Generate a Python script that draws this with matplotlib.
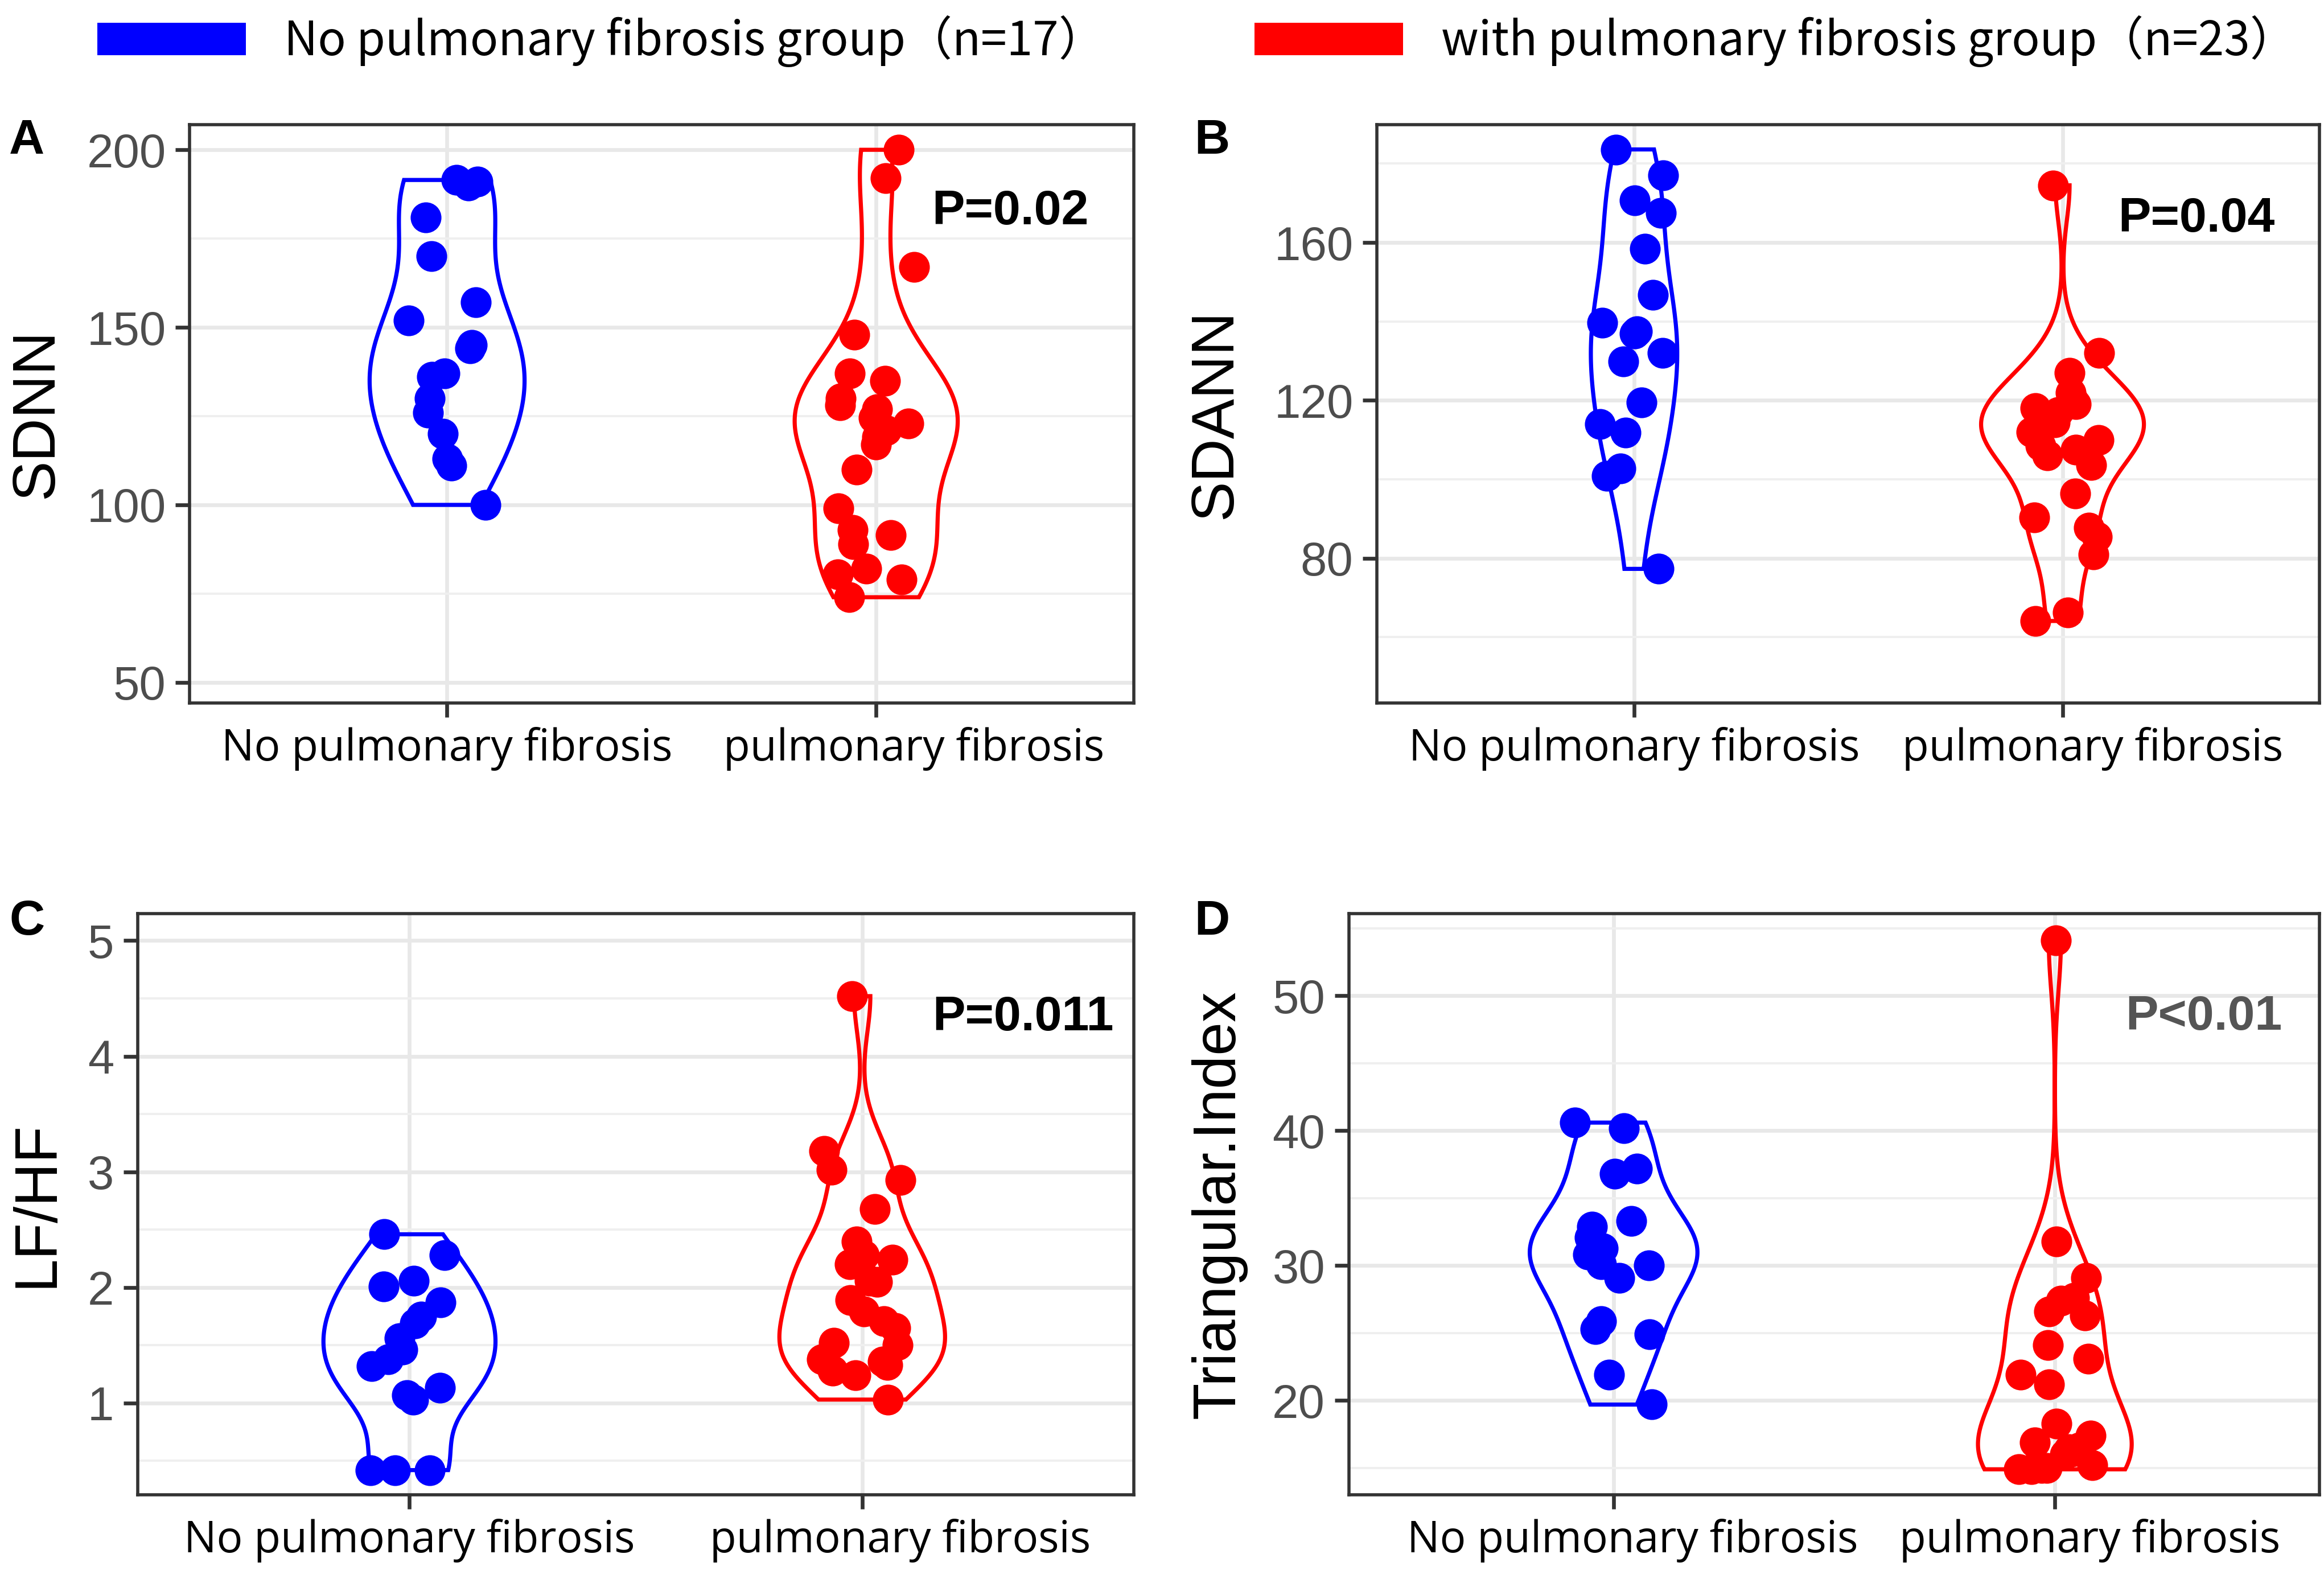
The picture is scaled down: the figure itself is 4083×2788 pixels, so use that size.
import numpy as np
import matplotlib.pyplot as plt
from matplotlib.patches import Patch
from matplotlib.transforms import ScaledTranslation

plt.rcParams['font.family'] = ['Liberation Sans', 'DejaVu Sans']

categories = ['No pulmonary fibrosis', 'pulmonary fibrosis']
legend_labels = ['No pulmonary fibrosis group（n=17）', 'with pulmonary fibrosis group（n=23）']

sdnn_no = [191.5, 191, 190, 181, 170, 157, 152, 145, 144, 137, 136, 130, 126, 120, 113, 111, 100]
sdnn_pf = [200, 192, 167, 148, 137, 135, 130, 128, 127, 124.5, 123, 121, 119, 117, 110,
           99, 93, 91.5, 89, 82, 80.5, 79, 74]

sdann_no = [183.6, 177, 170.7, 167.5, 158.4, 146.8, 139.7, 137.5, 137, 132.1, 129.9,
            119.5, 114, 111.8, 102.8, 100.8, 77.3]
sdann_pf = [174.5, 132, 127, 122, 120, 119, 118, 117, 115, 114.5, 112, 110, 108.5, 107.5,
            106, 103.6, 96.4, 90.4, 87.7, 85.5, 81, 66.3, 64.1]

lfhf_no = [2.46, 2.28, 2.06, 2.01, 1.87, 1.75, 1.69, 1.56, 1.46, 1.38, 1.32, 1.13, 1.07,
           1.03, 0.42, 0.42, 0.42]
lfhf_pf = [4.52, 3.18, 3.02, 2.93, 2.68, 2.40, 2.28, 2.24, 2.20, 2.06, 2.05, 1.89, 1.79,
           1.71, 1.65, 1.52, 1.50, 1.38, 1.36, 1.33, 1.28, 1.24, 1.03]

tri_no = [40.6, 40.2, 37.2, 36.8, 33.3, 32.9, 32.1, 31.3, 30.8, 30.1, 30.0, 29.1, 25.9,
          25.3, 24.9, 21.9, 19.7]
tri_pf = [54.1, 31.8, 29.1, 27.6, 27.4, 26.6, 26.3, 24.1, 23.1, 21.9, 21.2, 18.3, 17.4,
          16.9, 16.5, 16.4, 16.2, 16.0, 15.2, 15.0, 15.0, 14.9, 14.9]

p_texts = ['P=0.02', 'P=0.04', 'P=0.011', 'P<0.01']
y_labels = ['SDNN', 'SDANN', 'LF/HF', 'Triangular.Index']
panel_letters = ['A', 'B', 'C', 'D']

BLUE = '#0000FF'
RED = '#FF0000'


def kde(vals, n=512):
    # gaussian kde with R's nrd0 bandwidth, trimmed to data range (ggplot default)
    v = np.asarray(vals, float)
    sd = v.std(ddof=1)
    q75, q25 = np.percentile(v, [75, 25])
    bw = 0.9 * min(sd, (q75 - q25) / 1.34) * len(v) ** -0.2
    ys = np.linspace(v.min(), v.max(), n)
    d = np.exp(-0.5 * ((ys[:, None] - v[None, :]) / bw) ** 2).sum(1)
    d /= len(v) * bw * np.sqrt(2 * np.pi)
    return ys, d


fig = plt.figure(figsize=(20.415, 13.94), dpi=200)

# axes boxes [left, bottom, width, height] in figure fraction
boxes = [
    [0.0816, 0.557, 0.4062, 0.3645],
    [0.5925, 0.557, 0.4056, 0.3645],
    [0.0593, 0.058, 0.4286, 0.3664],
    [0.5804, 0.058, 0.4177, 0.3664],
]
panels = [
    (sdnn_no, sdnn_pf, (44.2, 207.1), [50, 100, 150, 200], [75, 125, 175]),
    (sdann_no, sdann_pf, (43.3, 189.9), [80, 120, 160], [60, 100, 140, 180]),
    (lfhf_no, lfhf_pf, (0.205, 5.235), [1, 2, 3, 4, 5], [0.5, 1.5, 2.5, 3.5, 4.5]),
    (tri_no, tri_pf, (13.0, 56.1), [20, 30, 40, 50], [15, 25, 35, 45, 55]),
]
p_pos = [(2.13, 182.5), (2.13, 166.0), (2.155, 4.335), (2.16, 48.4)]
label_x = [-0.162, -0.171, -0.101, -0.134]
letter_pos = [(0.004, 0.911), (0.514, 0.911), (0.004, 0.419), (0.514, 0.419)]
# horizontal nudge (points) of the category labels, as in the original layout
xlab_shift = [(0, 24), (0, 19), (0, 24), (12, 22)]

rng = np.random.default_rng(7)

for i, (box, (g_no, g_pf, ylim, yt, ymt)) in enumerate(zip(boxes, panels)):
    ax = fig.add_axes(box)
    ax.set_axisbelow(True)
    dens = [kde(g) for g in (g_no, g_pf)]
    dmax = max(d.max() for _, d in dens)
    for pos, (ys, d), vals, col in zip([1, 2], dens, [g_no, g_pf], [BLUE, RED]):
        half = d / dmax * 0.19
        ax.fill(np.r_[pos - half, (pos + half)[::-1]], np.r_[ys, ys[::-1]],
                facecolor='none', edgecolor=col, lw=2.6, zorder=2)
        jit = rng.uniform(-0.09, 0.09, len(vals))
        ax.scatter(pos + jit, vals, s=380, color=col, linewidths=0, zorder=3)

    ax.set_xlim(0.4, 2.6)
    ax.set_ylim(*ylim)
    ax.set_xticks([1, 2])
    ax.set_xticklabels(categories, family=['Open Sans', 'DejaVu Sans'], fontsize=27.5, color='black')
    ax.set_yticks(yt)
    ax.set_yticks(ymt, minor=True)
    ax.tick_params(axis='both', which='major', length=9, width=2.4, color='#333333', pad=6)
    ax.tick_params(axis='y', labelsize=30, labelcolor='#4D4D4D')
    ax.tick_params(which='minor', length=0)
    for lab, dx in zip(ax.get_xticklabels(), xlab_shift[i]):
        lab.set_transform(lab.get_transform() + ScaledTranslation(dx / 72, 0, fig.dpi_scale_trans))
    ax.grid(axis='y', which='major', color='#E8E8E8', lw=2.4)
    ax.grid(axis='y', which='minor', color='#EFEFEF', lw=1.4)
    ax.grid(axis='x', which='major', color='#E8E8E8', lw=2.4)
    for s in ax.spines.values():
        s.set_color('#333333')
        s.set_linewidth(2.0)

    ax.set_ylabel(y_labels[i], fontsize=38, color='black', va='center')
    ax.yaxis.set_label_coords(label_x[i], 0.5)

    ax.text(p_pos[i][0], p_pos[i][1], p_texts[i], fontsize=31, fontweight='bold',
            color='#555555' if i == 3 else 'black', ha='left', va='center')

    fig.text(letter_pos[i][0], letter_pos[i][1], panel_letters[i], fontsize=31,
             fontweight='bold', ha='left', va='center')

handles = [Patch(facecolor=BLUE, edgecolor='none'), Patch(facecolor=RED, edgecolor='none')]
fig.legend(handles, legend_labels, loc='center left', bbox_to_anchor=(0.042, 0.974),
           ncol=2, frameon=False, borderpad=0, borderaxespad=0,
           handlelength=3.18, handleheight=0.69, handletextpad=0.82, columnspacing=3.2,
           prop={'family': ['Noto Sans CJK SC', 'DejaVu Sans'], 'size': 29.5})

fig.savefig('out.png', dpi=200, facecolor='white')
